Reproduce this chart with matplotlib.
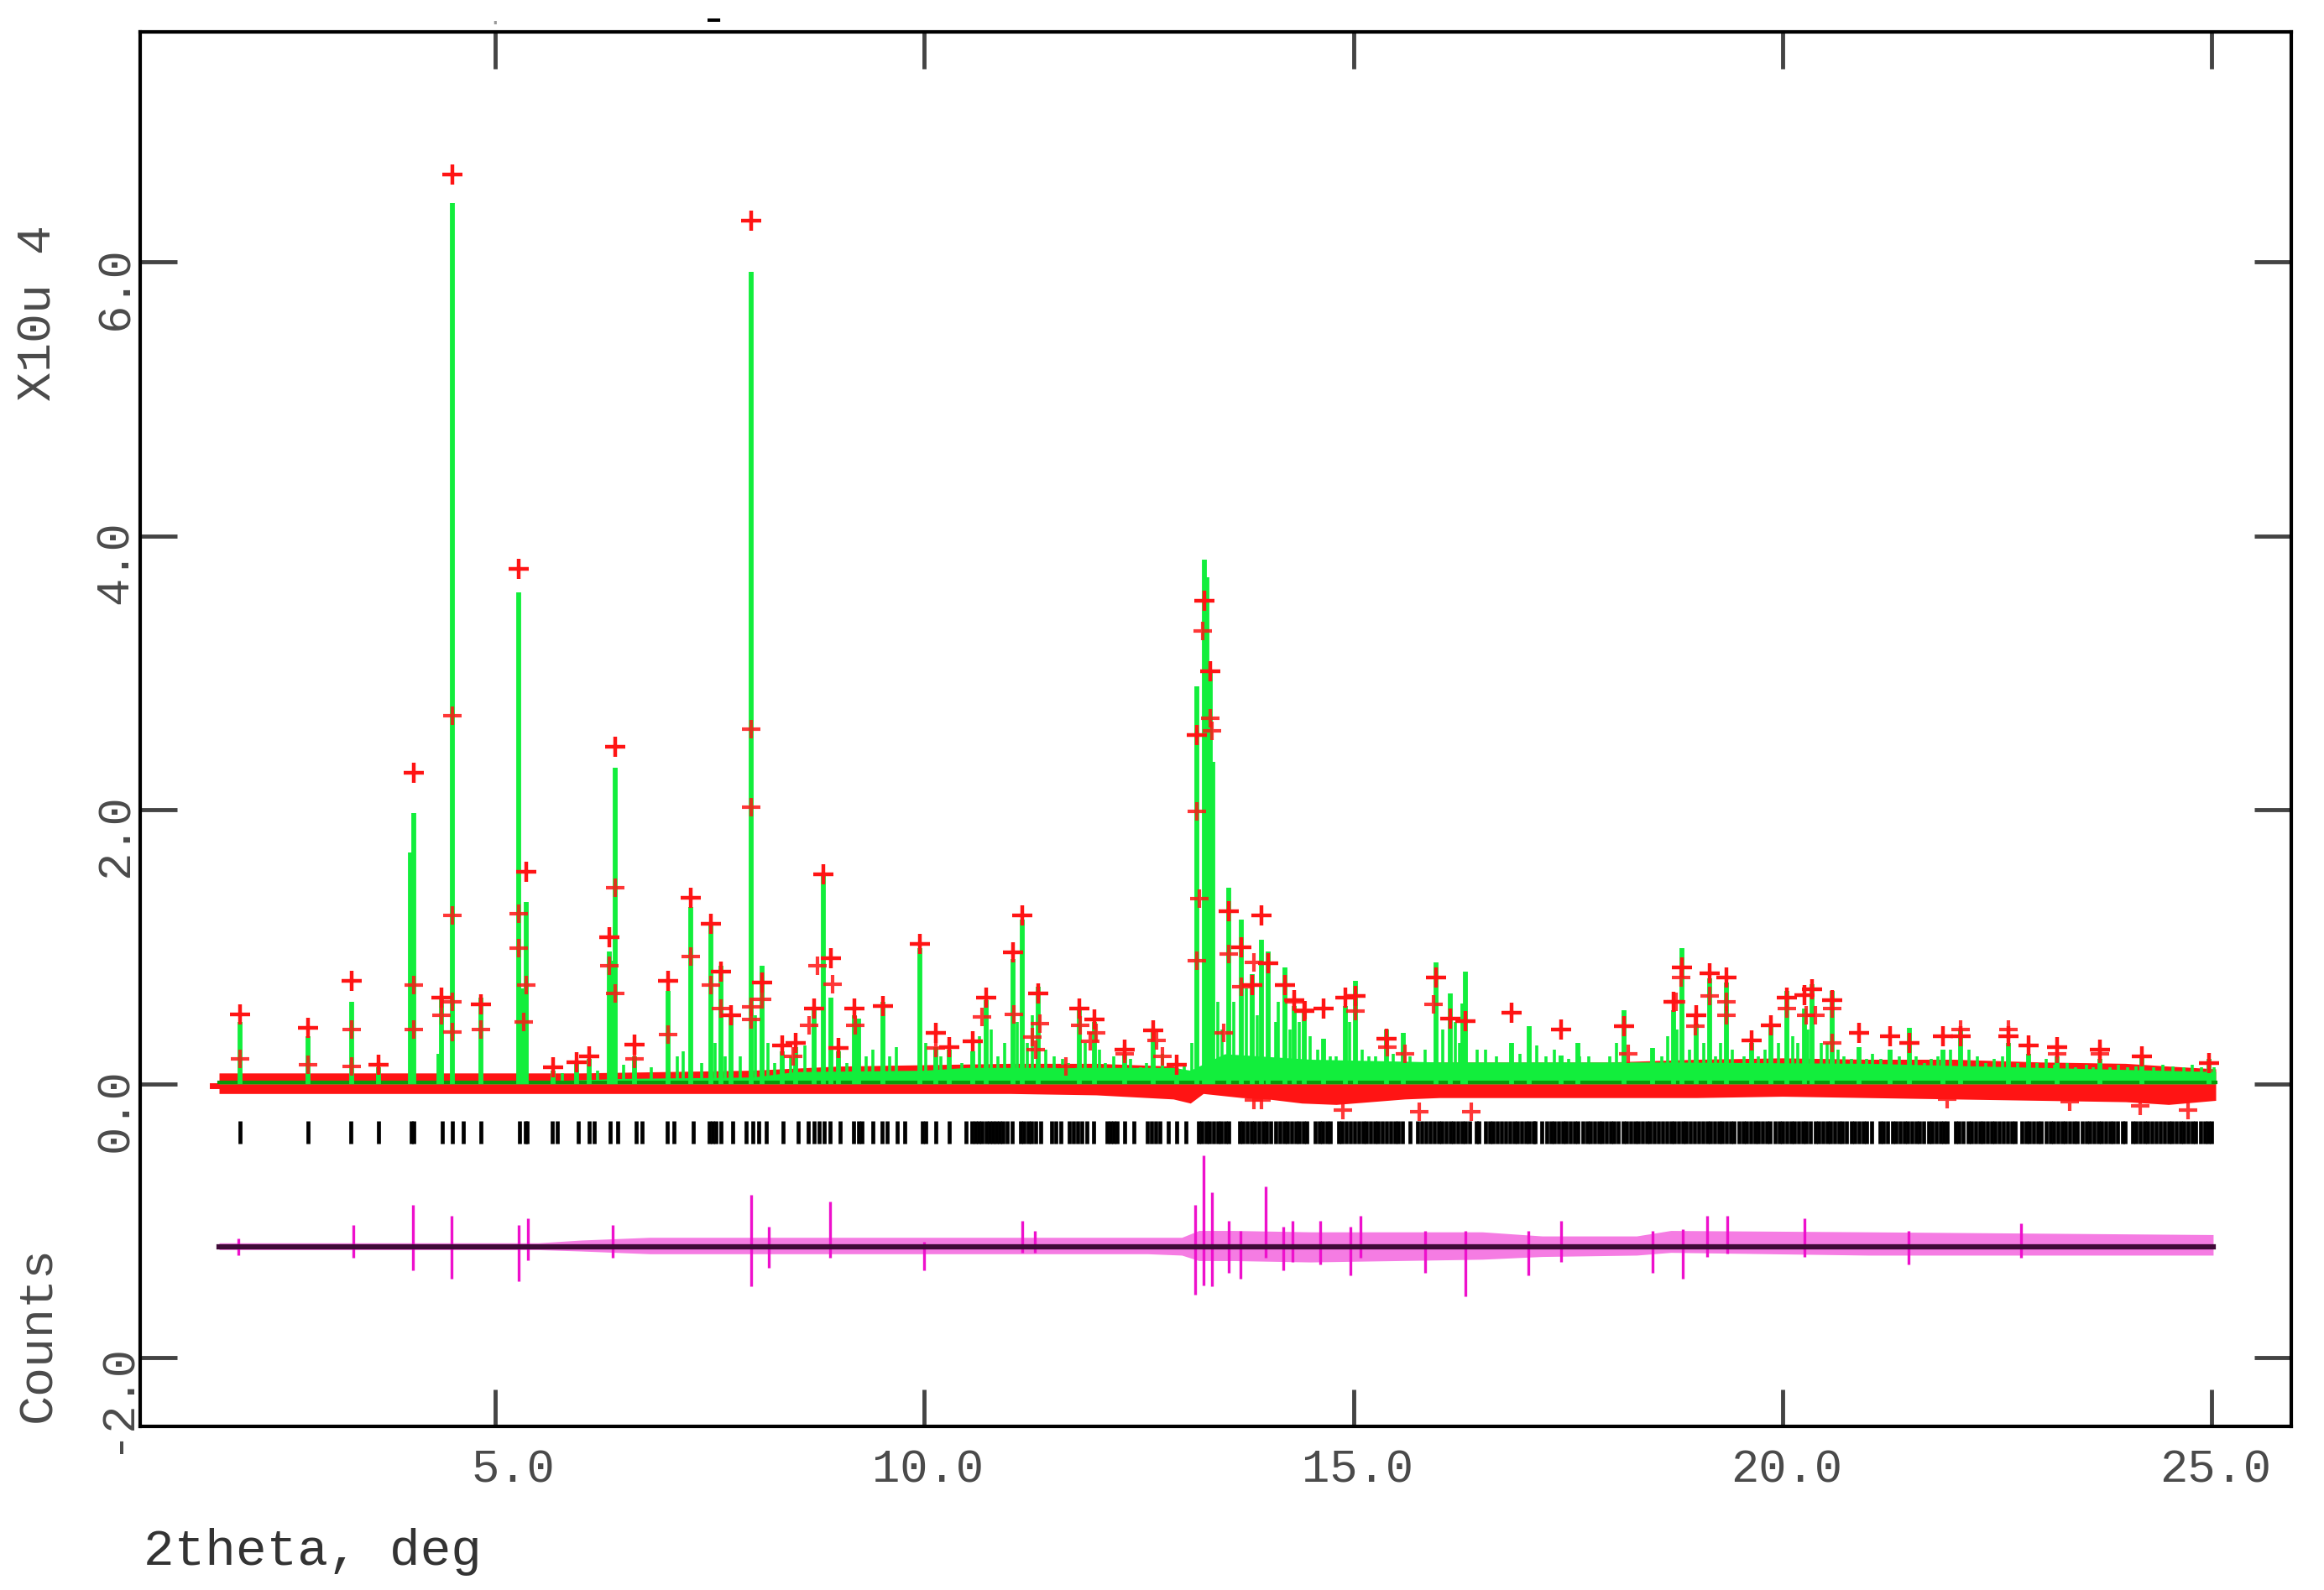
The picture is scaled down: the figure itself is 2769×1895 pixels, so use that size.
import numpy as np
import matplotlib
matplotlib.use("Agg")
import matplotlib.pyplot as plt
from matplotlib.transforms import ScaledTranslation

plt.rcParams['font.family'] = ['Liberation Mono', 'DejaVu Sans Mono']

nan = np.nan

# main reflections: position (2theta), calculated height, observed height (x10^4 counts)
pk_pos = [2.02, 2.82, 3.33, 3.64, 4.01, 4.05, 4.34, 4.37, 4.50, 4.83, 5.27, 5.32, 5.36,
          5.67, 5.95, 6.09, 6.33, 6.36, 6.40, 6.62, 7.01, 7.28, 7.51, 7.63, 7.75, 7.98,
          8.11, 8.34, 8.50, 8.71, 8.82, 8.91, 9.00, 9.18, 9.23, 9.52, 9.95, 10.13, 10.29,
          10.56, 10.72, 11.03, 11.14, 11.33, 11.81, 11.98, 12.33, 12.67, 12.94,
          13.18, 13.26, 13.29, 13.33, 13.36, 13.55, 13.69, 13.82, 13.93, 14.01, 14.20,
          14.31, 14.43, 14.65, 14.91, 15.02, 15.39, 15.58, 15.96, 16.13, 16.28, 16.31,
          16.84, 17.05, 17.42, 17.62, 18.15, 18.49, 18.73, 18.83, 19.00, 19.15, 19.35,
          19.64, 19.87, 20.05, 20.26, 20.35, 20.58, 20.89, 21.25, 21.48, 21.87, 22.08,
          22.63, 22.87, 23.20, 23.70, 24.19, 24.97]
pk_calc = [0.45, 0.35, 0.60, 0.12, 1.69, 1.98, 0.22, 0.62, 6.43, 0.63, 3.59, 0.70, 1.33,
           0.10, 0.17, 0.18, 0.97, 0.90, 2.31, 0.20, 0.68, 1.29, 1.16, 0.86, 0.49, 5.93,
           0.86, 0.24, 0.27, 0.55, 1.54, 0.63, 0.24, 0.50, 0.48, 0.60, 0.99, 0.27, 0.25,
           0.24, 0.61, 0.91, 1.20, 0.71, 0.55, 0.45, 0.22, 0.38, 0.10,
           2.90, 3.83, 3.70, 3.01, 2.35, 1.43, 1.20, 0.80, 1.05, 0.97, 0.85,
           0.57, 0.53, 0.33, 0.57, 0.75, 0.40, 0.37, 0.89, 0.66, 0.59, 0.82,
           0.30, 0.42, 0.21, 0.30, 0.54, 0.26, 0.54, 0.99, 0.44, 0.77, 0.74,
           0.30, 0.42, 0.68, 0.55, 0.73, 0.68, 0.27, 0.25, 0.41, 0.25, 0.40,
           0.30, 0.22, 0.20, 0.18, 0.20, 0.18]
pk_obs = [0.51, 0.41, 0.75, 0.14, nan, 2.27, nan, 0.63, 6.64, 0.58, 3.76, nan, 1.55,
          0.12, 0.16, 0.20, 1.07, nan, 2.46, 0.29, 0.75, 1.36, 1.17, 0.82, 0.50, 6.30,
          0.74, 0.28, 0.30, 0.55, 1.53, 0.92, 0.26, 0.55, nan, 0.57, 1.02, 0.37, 0.27,
          0.31, 0.63, 0.96, 1.23, 0.66, 0.55, 0.47, 0.25, 0.39, 0.14,
          2.55, 3.53, nan, 3.01, nan, 1.26, 1.00, 0.72, 1.23, 0.88, 0.72,
          0.61, 0.53, 0.55, 0.63, 0.64, 0.33, nan, 0.78, 0.48, nan, 0.46,
          0.52, nan, 0.40, nan, 0.42, nan, 0.60, 0.85, 0.50, 0.81, 0.78,
          0.32, 0.43, 0.63, 0.65, 0.69, 0.61, 0.37, 0.35, 0.30, 0.35, 0.35,
          0.35, 0.28, 0.27, 0.25, 0.20, 0.15]

# weak reflections forming the dense calculated profile
minor_pos = [5.78, 6.19, 6.49, 6.82, 7.12, 7.19, 7.40, 7.56, 7.68, 7.85, 8.03, 8.18,
             8.26, 8.44, 8.61, 9.10, 9.32, 9.40, 9.60, 9.67, 10.02, 10.19, 10.44, 10.64,
             10.78, 10.86, 10.94, 11.08, 11.20, 11.26, 11.41, 11.51, 11.61, 11.68, 11.87,
             12.04, 12.11, 12.21, 12.40, 12.52, 12.59, 12.77, 13.03,
             13.12, 13.42, 13.47, 13.61, 13.75, 13.88, 14.09, 14.12, 14.26, 14.37, 14.50,
             14.58, 14.73, 14.80, 14.96, 15.10, 15.18, 15.26, 15.46, 15.50, 15.66, 15.74,
             15.84, 16.04, 16.19, 16.24, 16.44, 16.54, 16.67, 16.77, 16.94, 17.14, 17.24,
             17.34, 17.51, 17.64, 17.74, 17.87, 17.99, 18.07, 18.24, 18.34, 18.59, 18.66,
             18.77, 18.92, 19.08, 19.22, 19.28, 19.42, 19.55, 19.72, 19.80, 19.95, 20.12,
             20.18, 20.30, 20.45, 20.52, 20.65, 20.72, 20.80, 20.98, 21.05, 21.15, 21.36,
             21.56, 21.66, 21.73, 21.81, 21.96, 22.17, 22.27, 22.37, 22.47, 22.57, 22.74,
             22.97, 23.07, 23.17, 23.32, 23.42, 23.54, 23.62, 23.82, 23.92, 24.02, 24.12,
             24.33, 24.43, 24.55, 24.68, 24.78, 24.88, 25.03]
minor_h = [0.08, 0.10, 0.14, 0.12, 0.20, 0.24, 0.15, 0.30, 0.20, 0.20, 0.50, 0.30,
           0.15, 0.20, 0.28, 0.15, 0.20, 0.25, 0.20, 0.27, 0.30, 0.20, 0.15, 0.35,
           0.40, 0.20, 0.30, 0.45, 0.30, 0.50, 0.25, 0.20, 0.18, 0.15, 0.30,
           0.25, 0.15, 0.20, 0.18, 0.12, 0.15, 0.22, 0.15,
           0.30, 0.60, 0.40, 0.60, 0.70, 0.50, 0.45, 0.60, 0.40, 0.45, 0.35,
           0.25, 0.20, 0.20, 0.45, 0.25, 0.20, 0.20, 0.22, 0.15, 0.20, 0.15,
           0.25, 0.40, 0.45, 0.30, 0.25, 0.25, 0.20, 0.15, 0.22, 0.28, 0.20,
           0.25, 0.18, 0.20, 0.20, 0.15, 0.20, 0.30, 0.15, 0.15, 0.20, 0.35,
           0.40, 0.25, 0.30, 0.20, 0.30, 0.25, 0.20, 0.20, 0.25, 0.30, 0.35,
           0.30, 0.40, 0.30, 0.30, 0.25, 0.20, 0.18, 0.18, 0.22, 0.18, 0.20,
           0.20, 0.15, 0.18, 0.20, 0.25, 0.25, 0.20, 0.15, 0.18, 0.20, 0.15,
           0.15, 0.18, 0.14, 0.15, 0.12, 0.14, 0.12, 0.12, 0.14, 0.12, 0.13,
           0.12, 0.14, 0.13, 0.12, 0.14, 0.12, 0.12]

# further observed points on peak flanks, in the weak region and below the background
flank_x = [2.02, 2.82, 3.33, 3.33, 4.05, 4.05, 4.37, 4.50, 4.50, 4.50, 4.50, 4.83, 5.27,
           5.27, 5.36, 5.33, 6.33, 6.40, 6.40, 6.62, 7.01, 7.28, 7.51, 7.63, 7.98, 7.98,
           7.98, 7.98, 8.11, 8.47, 8.66, 8.75, 8.93, 9.19, 10.13, 10.67, 11.04, 11.26,
           11.35, 11.30, 11.65, 11.82, 11.93, 12.00, 12.33, 12.71, 12.77, 13.18, 13.18,
           13.20, 13.24, 13.33, 13.35, 13.49, 13.55, 13.69, 13.84, 13.84, 14.31, 14.44,
           15.02, 15.40, 15.60, 15.93, 18.20, 18.76, 18.82, 18.99, 19.35, 19.35, 19.15,
           20.05, 20.28, 20.38, 20.58, 20.58, 22.08, 22.63, 23.20, 23.70,
           13.93, 14.88, 15.77, 16.37, 21.92, 23.35, 24.17, 24.73]
flank_y = [0.18, 0.14, 0.40, 0.13, 0.72, 0.40, 0.50, 2.69, 1.23, 0.60, 0.38, 0.40, 1.24,
           0.99, 0.72, 0.45, 0.86, 1.43, 0.66, 0.18, 0.36, 0.93, 0.72, 0.55, 2.59, 2.02,
           0.56, 0.47, 0.62, 0.20, 0.43, 0.86, 0.73, 0.43, 0.26, 0.49, 0.51, 0.34,
           0.44, 0.25, 0.13, 0.43, 0.31, 0.37, 0.22, 0.32, 0.20, 1.99, 0.90,
           1.35, 3.31, 2.67, 2.58, 0.37, 0.95, 0.71, 0.89, -0.12, 0.60, 0.54,
           0.53, 0.27, 0.22, 0.58, 0.22, 0.60, 0.78, 0.42, 0.60, 0.50, 0.64,
           0.55, 0.50, 0.50, 0.55, 0.30, 0.40, 0.40, 0.22, 0.22,
           -0.12, -0.19, -0.20, -0.20, -0.11, -0.13, -0.16, -0.19]

# spread of the observed points about the background
band_x = [1.78, 4.0, 6.0, 8.0, 9.0, 10.0, 11.0, 12.0, 12.9, 13.1, 13.25, 13.4, 13.7, 14.0,
          14.4, 14.8, 15.2, 15.6, 16.0, 17.0, 18.0, 19.0, 20.0, 21.0, 22.0, 23.0, 24.0,
          24.5, 25.05]
band_hi = [0.08, 0.08, 0.08, 0.10, 0.13, 0.14, 0.15, 0.15, 0.13, 0.08, 0.08, 0.13, 0.16,
           0.16, 0.16, 0.16, 0.16, 0.16, 0.16, 0.16, 0.16, 0.18, 0.19, 0.18, 0.18, 0.16,
           0.15, 0.13, 0.11]
band_lo = [-0.07, -0.07, -0.07, -0.07, -0.07, -0.07, -0.07, -0.08, -0.11, -0.14, -0.07,
           -0.08, -0.10, -0.11, -0.14, -0.15, -0.13, -0.11, -0.10, -0.10, -0.10, -0.10,
           -0.09, -0.10, -0.11, -0.12, -0.13, -0.15, -0.12]

# envelope of overlapping weak calculated peaks
forest_x = [1.78, 5.5, 6.5, 8.0, 8.5, 10.0, 10.5, 12.9, 13.1, 13.5, 14.5, 16.0, 18.5,
            21.0, 23.0, 25.05]
forest_top = [0.02, 0.02, 0.04, 0.05, 0.09, 0.10, 0.12, 0.12, 0.10, 0.22, 0.18, 0.16,
              0.16, 0.15, 0.12, 0.09]
bg_x = [1.78, 25.05]
bg_y = [0.01, 0.01]

# reflection positions
hkl_pos = [2.02, 2.82, 3.32, 3.64, 4.02, 4.05, 4.38, 4.50, 4.63, 4.83, 5.28, 5.35, 5.37,
           5.66, 5.72, 5.97, 6.09, 6.15, 6.34, 6.43, 6.64, 6.71, 7.00, 7.08, 7.31, 7.49,
           7.53, 7.57, 7.63, 7.77, 7.92, 8.00, 8.07, 8.16, 8.35, 8.53, 8.65, 8.71, 8.77,
           8.83, 8.90, 9.02, 9.17, 9.23, 9.27, 9.40, 9.51, 9.57, 9.68, 9.77, 9.98, 10.02,
           10.13, 10.29, 10.49, 10.55, 10.59, 10.63, 10.67, 10.72, 10.76, 10.80, 10.84,
           10.88, 10.92, 10.96, 11.02, 11.12, 11.16, 11.21, 11.25, 11.30, 11.36, 11.48,
           11.53, 11.59, 11.69, 11.74, 11.79, 11.84, 11.89, 11.97, 12.13, 12.17, 12.21,
           12.25, 12.33, 12.44, 12.60, 12.65, 12.70, 12.74, 12.84, 12.94, 13.05,
           13.19, 13.23, 13.28, 13.32, 13.37, 13.42, 13.46, 13.51, 13.55,
           13.67, 13.71, 13.76, 13.81, 13.85, 13.90, 13.95, 13.99, 14.04, 14.09, 14.14,
           14.19, 14.23, 14.28, 14.33, 14.37, 14.42, 14.46, 14.55, 14.60, 14.64, 14.69,
           14.73, 14.83, 14.87, 14.92, 14.97, 15.01, 15.06, 15.11, 15.15, 15.20, 15.25,
           15.29, 15.34, 15.39, 15.43, 15.48, 15.52, 15.57, 15.66, 15.75, 15.80, 15.85,
           15.89, 15.94, 15.99, 16.03, 16.08, 16.13, 16.17, 16.22, 16.27, 16.31, 16.35,
           16.43, 16.46, 16.54, 16.59, 16.63, 16.68, 16.73, 16.77, 16.82, 16.87, 16.91,
           16.96, 17.01, 17.05, 17.10, 17.12, 17.20, 17.25, 17.30, 17.34, 17.39, 17.44,
           17.48, 17.53, 17.58, 17.62, 17.67, 17.72, 17.76, 17.81, 17.86, 17.90, 17.95,
           18.00, 18.04, 18.09, 18.14, 18.18, 18.23, 18.28, 18.32, 18.37, 18.42, 18.46,
           18.51, 18.56, 18.60, 18.65, 18.70, 18.74, 18.79, 18.84, 18.88, 18.93, 18.98,
           19.02, 19.07, 19.12, 19.16, 19.21, 19.26, 19.30, 19.35, 19.40, 19.44, 19.49,
           19.54, 19.58, 19.63, 19.68, 19.72, 19.77, 19.82, 19.86, 19.91, 19.96, 20.00,
           20.05, 20.10, 20.14, 20.19, 20.24, 20.28, 20.33, 20.38, 20.42, 20.47, 20.52,
           20.56, 20.61, 20.66, 20.70, 20.75, 20.80, 20.84, 20.89, 20.94, 20.98, 21.04,
           21.14, 21.18, 21.23, 21.28, 21.32, 21.37, 21.42, 21.46, 21.51, 21.56, 21.60,
           21.65, 21.70, 21.74, 21.79, 21.84, 21.88, 21.92, 22.02, 22.06, 22.11, 22.16,
           22.20, 22.25, 22.30, 22.34, 22.39, 22.44, 22.48, 22.53, 22.58, 22.62, 22.67,
           22.71, 22.79, 22.84, 22.88, 22.93, 22.98, 23.02, 23.07, 23.12, 23.16, 23.21,
           23.26, 23.30, 23.35, 23.40, 23.44, 23.49, 23.54, 23.58, 23.63, 23.68, 23.72,
           23.77, 23.82, 23.86, 23.91, 23.96, 23.99, 24.08, 24.12, 24.17, 24.22, 24.26,
           24.31, 24.36, 24.40, 24.45, 24.50, 24.54, 24.59, 24.64, 24.68, 24.73, 24.78,
           24.82, 24.87, 24.92, 24.96, 25.00]

# difference curve (obs - calc), drawn shifted to -1.19
diff_zero = -1.19
diff_x = [1.78, 5.5, 6.0, 6.8, 12.6, 13.0, 13.2, 13.6, 14.5, 16.5, 17.2, 18.3, 18.7, 21.0,
          25.02]
diff_hi = [-1.16, -1.16, -1.14, -1.12, -1.12, -1.12, -1.07, -1.07, -1.08, -1.08, -1.11,
           -1.11, -1.07, -1.08, -1.10]
diff_lo = [-1.21, -1.21, -1.22, -1.24, -1.24, -1.25, -1.29, -1.29, -1.30, -1.28, -1.26,
           -1.25, -1.23, -1.25, -1.25]
spike_x = [2.00, 3.34, 4.04, 4.49, 5.27, 5.38, 6.37, 7.98, 8.19, 8.90, 10.00, 11.14,
           11.29, 13.16, 13.25, 13.35, 13.55, 13.68, 13.98, 14.18, 14.29, 14.61, 14.97,
           15.08, 15.84, 16.31, 17.04, 17.42, 18.49, 18.84, 19.12, 19.36, 20.26, 21.47,
           22.78]
spike_top = [-1.13, -1.03, -0.88, -0.96, -1.03, -0.98, -1.03, -0.81, -1.04, -0.86, -1.15,
             -1.00, -1.07, -0.88, -0.52, -0.79, -1.00, -1.07, -0.75, -1.04, -1.00, -1.00,
             -1.04, -0.96, -1.07, -1.07, -1.07, -1.00, -1.07, -1.06, -0.96, -0.96, -0.98,
             -1.07, -1.02]
spike_bot = [-1.25, -1.27, -1.36, -1.42, -1.44, -1.29, -1.27, -1.48, -1.34, -1.27, -1.36,
             -1.23, -1.23, -1.54, -1.47, -1.48, -1.38, -1.42, -1.27, -1.36, -1.30, -1.32,
             -1.40, -1.27, -1.38, -1.55, -1.40, -1.30, -1.38, -1.42, -1.26, -1.24, -1.26,
             -1.32, -1.27]

x_ticks = [5, 10, 15, 20, 25]
x_labels = ['5.0', '10.0', '15.0', '20.0', '25.0']
y_ticks = [-2, 0, 2, 4, 6]
y_labels = ['-2.0', '0.0', '2.0', '4.0', '6.0']

red = '#ff1414'
green = '#12ee3c'
magenta = '#ee10cc'
txt = '#4a4a4a'

fig = plt.figure(figsize=(27.69, 18.95), dpi=100)
ax = fig.add_axes([0.0603, 0.1029, 0.9256, 0.8770])

ax.fill_between(band_x, band_lo, band_hi, color=red, lw=0, zorder=1)
ax.fill_between(forest_x, 0.0, forest_top, color=green, lw=0, zorder=2)
ax.vlines(minor_pos, 0.0, minor_h, color=green, lw=2.6, zorder=2.5)
ax.plot(bg_x, bg_y, color='#0a9a0a', lw=3, zorder=2.6)
ax.vlines(pk_pos, 0.0, pk_calc, color=green, lw=4.2, zorder=3)
ax.plot(flank_x, flank_y, '+', ms=16, mew=3.0, color=red, alpha=0.85, zorder=4)
ax.plot(pk_pos, pk_obs, '+', ms=17, mew=3.2, color=red, zorder=5)
ax.plot([1.70, 1.78], [-0.01, -0.01], color=red, lw=5, zorder=1)

ax.vlines(hkl_pos, -0.435, -0.27, color='black', lw=3.4, zorder=3)

ax.fill_between(diff_x, diff_lo, diff_hi, color=magenta, alpha=0.55, lw=0, zorder=2)
ax.vlines(spike_x, spike_bot, spike_top, color=magenta, lw=2.4, zorder=3)
ax.plot([diff_x[0], diff_x[-1]], [diff_zero, diff_zero], color='#400a38', lw=4.5, zorder=4)

ax.set_xlim(0.86, 25.93)
ax.set_ylim(-2.50, 7.68)

for s in ax.spines.values():
    s.set_linewidth(3)
    s.set_color('black')

ax.set_xticks(x_ticks)
ax.set_xticklabels(x_labels)
ax.set_yticks(y_ticks)
ax.set_yticklabels(y_labels)
ax.tick_params(axis='both', which='major', direction='in', length=32, width=3.5,
               color='#444444', top=True, right=True, labelsize=40, labelcolor=txt)
ax.tick_params(axis='x', pad=19)
ax.tick_params(axis='y', pad=2, labelrotation=90)
for lab in ax.get_xticklabels():
    lab.set_horizontalalignment('right')
    lab.set_transform(lab.get_transform() + ScaledTranslation(0.71, 0, fig.dpi_scale_trans))
for lab in ax.get_yticklabels():
    lab.set_verticalalignment('top')
    lab.set_transform(lab.get_transform() + ScaledTranslation(0, 0.19, fig.dpi_scale_trans))

fig.text(0.0163, 0.803, 'X10u 4', rotation=90, ha='center', va='center',
         fontsize=42, color=txt)
fig.text(0.0163, 0.161, 'Counts', rotation=90, ha='center', va='center',
         fontsize=42, color=txt)
fig.text(0.0617, 0.0158, '2theta, deg', ha='left', va='baseline',
         fontsize=44, color='#333333')
fig.text(851 / 2769, 1 - 25 / 1895, '-', ha='center', va='center', fontsize=40, color='black')
fig.text(590 / 2769, 1 - 22 / 1895, '.', ha='center', va='center', fontsize=20, color='#999999')

fig.savefig('out.png', dpi=100)
